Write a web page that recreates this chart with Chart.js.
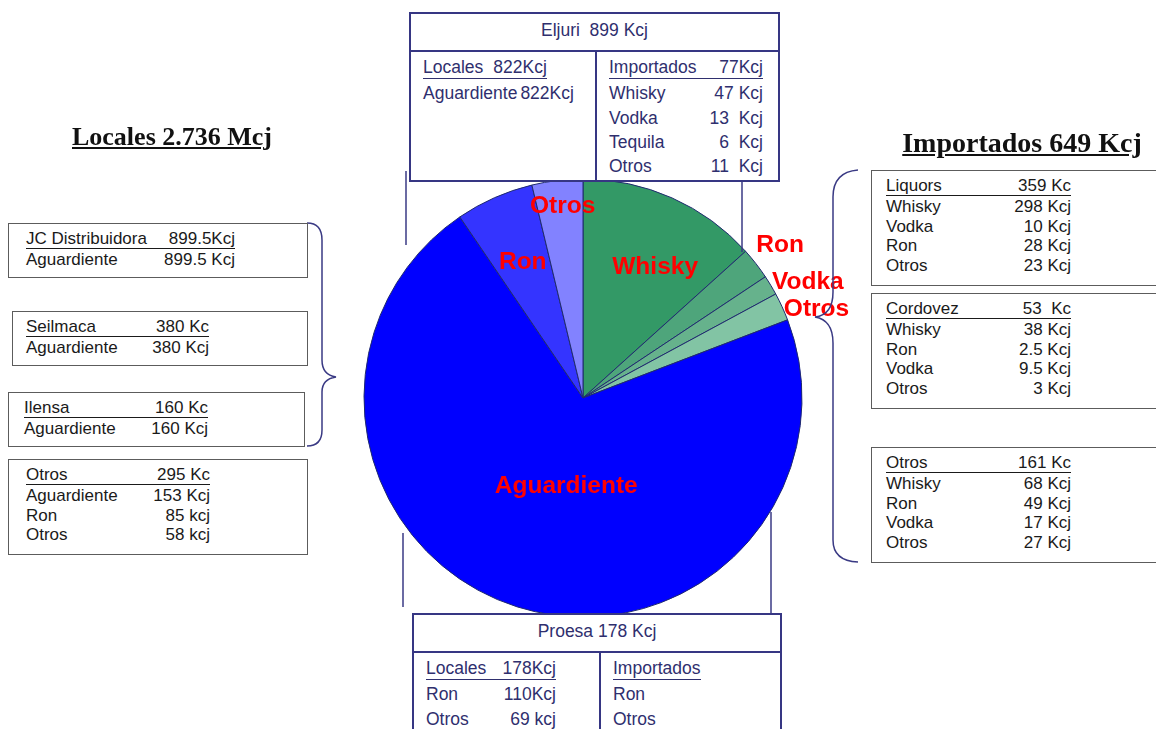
<!DOCTYPE html>
<html>
<head>
<meta charset="utf-8">
<script src="https://cdn.jsdelivr.net/npm/chart.js@4.4.1/dist/chart.umd.min.js"></script>
<style>
  body { margin: 0; background: #fff; width: 1156px; height: 729px; overflow: hidden; position: relative;
         font-family: "Liberation Sans", Arial, sans-serif; }
  #pie { position: absolute; left: 0; top: 0; }
  svg { position: absolute; left: 0; top: 0; }
  .title { position: absolute; font-family: "Liberation Serif", "Times New Roman", serif; font-weight: bold;
           text-decoration: underline; color: #111; white-space: nowrap; transform: translateX(-50%); }
  .box { position: absolute; box-sizing: border-box; border: 1.5px solid #5c5c5c; background: #fff;
         font-size: 17px; line-height: 19.5px; color: #1a1a1a; padding: 5px 0 0 15px; }
  .navy { border: 2px solid #363683; color: #2f2f6e; padding: 0; font-size: 17.5px; }
  .navy .head { height: 36px; line-height: 33px; text-align: center; border-bottom: 2px solid #363683; }
  .navy .col { position: absolute; top: 38px; bottom: 0; padding: 3px 0 0 12px; line-height: 24.2px; box-sizing: border-box; }
  .navy .col + .col { border-left: 2px solid #363683; }
  .row { display: flex; white-space: nowrap; }
  .row.hd { display: inline-flex; border-bottom: 1px solid currentColor; line-height: 18px; margin-bottom: 1px; }
  .navy .row.hd { line-height: 21.4px; margin-bottom: 2px; }
  .v { text-align: right; }
</style>
</head>
<body>
<canvas id="pie" width="1156" height="729"></canvas>
<svg width="1156" height="729">
  <g fill="none" stroke="#3a3a84" stroke-width="1.5">
    <path d="M406 171 V245"/>
    <path d="M742 160 V252"/>
    <path d="M403 533 V607"/>
    <path d="M771 512 V622"/>
    <path d="M307 223 Q322 223 322 240 V360 Q322 375 336 377 Q322 379 322 392 V430 Q322 446 307 446"/>
    <path d="M858 170 Q833 172 833 197 V292 Q833 315 815 317 Q833 320 833 343 V540 Q833 561 858 562"/>
  </g>
</svg>

<div class="title" style="left:172px; top:122px; font-size:26px;">Locales 2.736 Mcj</div>
<div class="title" style="left:1022px; top:127px; font-size:28px;">Importados 649 Kcj</div>

<div class="box" id="jc" style="left:8px; top:223px; width:300px; height:55px; padding-left:17px;"></div>
<div class="box" id="seil" style="left:12px; top:311px; width:296px; height:55px; padding-left:13px;"></div>
<div class="box" id="ilen" style="left:8px; top:392px; width:297px; height:55px; padding-left:15px;"></div>
<div class="box" id="otloc" style="left:8px; top:459px; width:300px; height:96px; padding-left:17px;"></div>

<div class="box" id="liq" style="left:871px; top:170px; width:300px; height:116px; padding-left:14px;"></div>
<div class="box" id="cord" style="left:871px; top:293px; width:300px; height:116px; padding-left:14px;"></div>
<div class="box" id="otimp" style="left:871px; top:447px; width:300px; height:116px; padding-left:14px;"></div>

<div class="box navy" style="left:409px; top:12px; width:371px; height:170px;">
  <div class="head">Eljuri&nbsp; 899 Kcj</div>
  <div class="col" id="eljLoc" style="left:0; width:184px;"></div>
  <div class="col" id="eljImp" style="left:184px; right:0;"></div>
</div>
<div class="box navy" style="left:412px; top:613px; width:370px; height:140px;">
  <div class="head">Proesa 178 Kcj</div>
  <div class="col" id="proLoc" style="left:0; width:185px;"></div>
  <div class="col" id="proImp" style="left:185px; right:0;"></div>
</div>

<script>
// pie slices, clockwise from 12 o'clock (imported first, then local)
const sliceLabels = ['Whisky', 'Ron', 'Vodka', 'Otros', 'Aguardiente', 'Ron', 'Otros'];
const sliceValues = [451, 79.5, 49.5, 70, 2414.5, 195, 127];
const sliceColors = ['#339966', '#4ea57b', '#66b28c', '#82c4a4', '#0000ff', '#3434ff', '#8282ff'];
// label placement: distance from centre (share of radius) and a turn off the mid angle (deg)
const labelDist = [0.68, 1.14, 1.155, 1.14, 0.41, 0.68, 0.88];
const labelTurn = [5, 0, 3.7, 3.9, -6.7, 0, 0.7];

// distributor boxes: [name, value]
const jcRows = [['JC Distribuidora', '899.5Kcj'], ['Aguardiente', '899.5 Kcj']];
const seilmacaRows = [['Seilmaca', '380 Kc'], ['Aguardiente', '380 Kcj']];
const ilensaRows = [['Ilensa', '160 Kc'], ['Aguardiente', '160 Kcj']];
const otrosLocRows = [['Otros', '295 Kc'], ['Aguardiente', '153 Kcj'], ['Ron', '85 kcj'], ['Otros', '58 kcj']];
const liquorsRows = [['Liquors', '359 Kc'], ['Whisky', '298 Kcj'], ['Vodka', '10 Kcj'], ['Ron', '28 Kcj'], ['Otros', '23 Kcj']];
const cordovezRows = [['Cordovez', '53  Kc'], ['Whisky', '38 Kcj'], ['Ron', '2.5 Kcj'], ['Vodka', '9.5 Kcj'], ['Otros', '3 Kcj']];
const otrosImpRows = [['Otros', '161 Kc'], ['Whisky', '68 Kcj'], ['Ron', '49 Kcj'], ['Vodka', '17 Kcj'], ['Otros', '27 Kcj']];
const eljuriLocRows = [['Locales', '822Kcj'], ['Aguardiente', '822Kcj']];
const eljuriImpRows = [['Importados', '77Kcj'], ['Whisky', '47 Kcj'], ['Vodka', '13  Kcj'], ['Tequila', '6  Kcj'], ['Otros', '11  Kcj']];
const proesaLocRows = [['Locales', '178Kcj'], ['Ron', '110Kcj'], ['Otros', '69 kcj']];
const proesaImpRows = [['Importados', ''], ['Ron', ''], ['Otros', '']];

function fillBox(id, rows, nameW, valW) {
  const el = document.getElementById(id);
  rows.forEach((r, i) => {
    const row = document.createElement('div');
    row.className = i === 0 ? 'row hd' : 'row';
    const n = document.createElement('span');
    n.textContent = r[0];
    const v = document.createElement('span');
    v.textContent = r[1];
    v.style.whiteSpace = 'pre';
    if (valW) {
      n.style.width = nameW + 'px';
      v.className = 'v';
      v.style.width = valW + 'px';
    } else if (r[1]) {
      v.style.marginLeft = (i === 0 ? 10 : 3) + 'px';
    }
    row.appendChild(n);
    if (r[1]) row.appendChild(v);
    el.appendChild(row);
    if (i === 0) el.appendChild(document.createElement('br'));
  });
}

fillBox('jc', jcRows, 130, 79);
fillBox('seil', seilmacaRows, 120, 63);
fillBox('ilen', ilensaRows, 120, 64);
fillBox('otloc', otrosLocRows, 120, 64);
fillBox('liq', liquorsRows, 120, 65);
fillBox('cord', cordovezRows, 120, 65);
fillBox('otimp', otrosImpRows, 120, 65);
fillBox('eljLoc', eljuriLocRows, 0, 0);
fillBox('eljImp', eljuriImpRows, 95, 59);
fillBox('proLoc', proesaLocRows, 70, 60);
fillBox('proImp', proesaImpRows, 0, 0);

const sliceLabelPlugin = {
  id: 'sliceLabels',
  afterDatasetsDraw(chart) {
    const ctx = chart.ctx;
    const arcs = chart.getDatasetMeta(0).data;
    ctx.save();
    ctx.font = 'bold 24.5px "Liberation Sans", Arial, sans-serif';
    ctx.fillStyle = '#ff0000';
    ctx.textAlign = 'center';
    ctx.textBaseline = 'middle';
    arcs.forEach((arc, i) => {
      const mid = (arc.startAngle + arc.endAngle) / 2 + labelTurn[i] * Math.PI / 180;
      const r = arc.outerRadius * labelDist[i];
      ctx.fillText(sliceLabels[i], arc.x + Math.cos(mid) * r, arc.y + Math.sin(mid) * r);
    });
    ctx.restore();
  }
};

new Chart(document.getElementById('pie'), {
  type: 'pie',
  data: {
    labels: sliceLabels,
    datasets: [{
      data: sliceValues,
      backgroundColor: sliceColors,
      borderColor: '#1f2a6e',
      borderWidth: 1,
      hoverOffset: 0
    }]
  },
  options: {
    responsive: false,
    animation: false,
    radius: 219,
    layout: { padding: { left: 10, top: 67 } },
    plugins: { legend: { display: false }, tooltip: { enabled: false } }
  },
  plugins: [sliceLabelPlugin]
});
</script>
</body>
</html>
